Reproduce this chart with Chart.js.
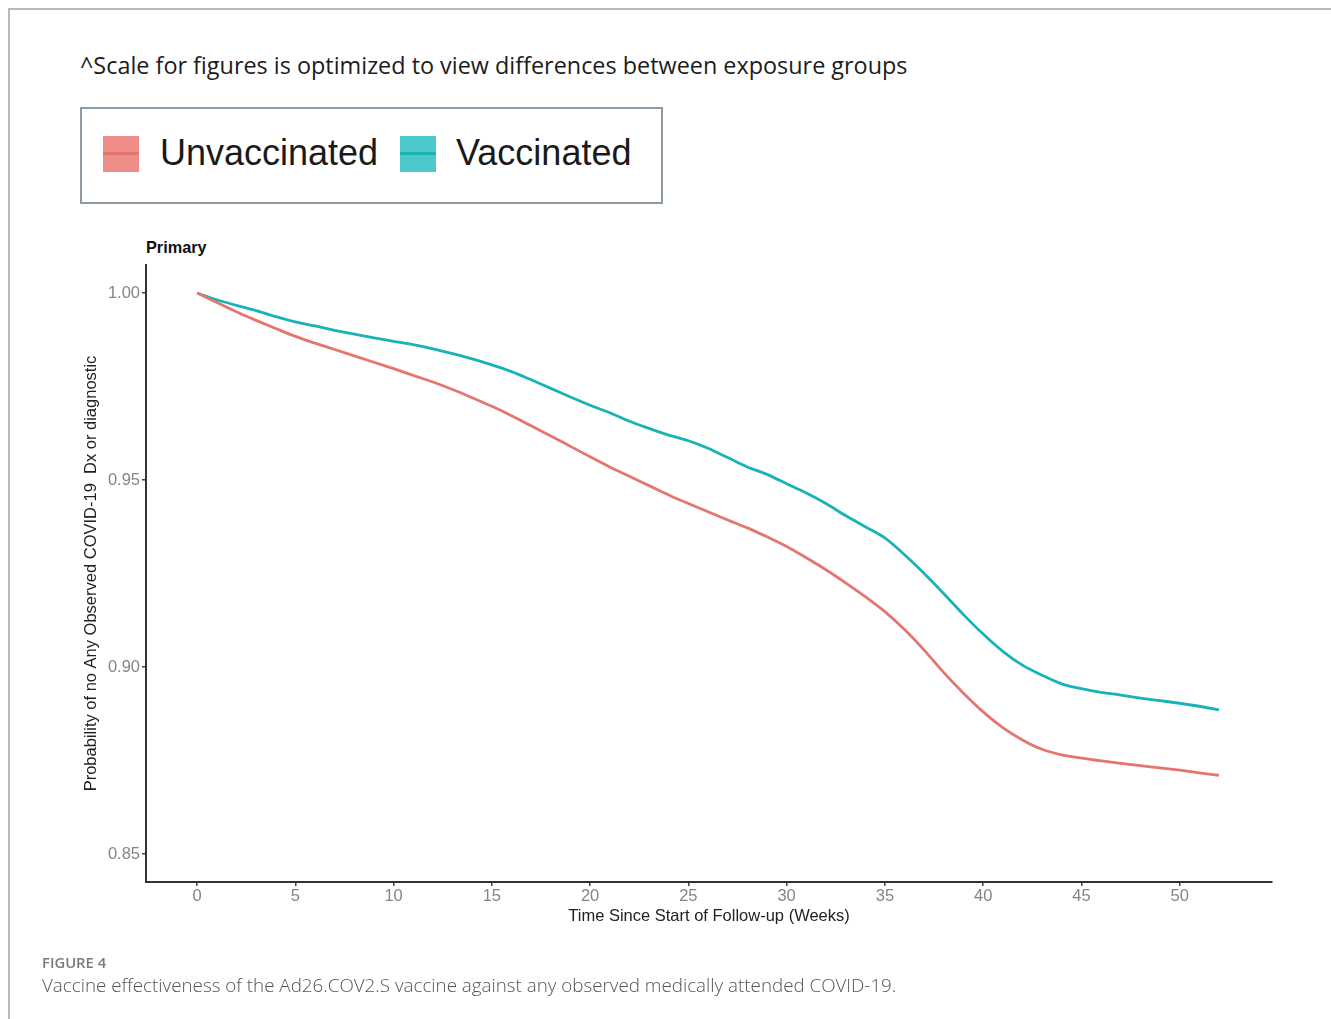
<!DOCTYPE html>
<html>
<head>
<meta charset="utf-8">
<script src="https://cdn.jsdelivr.net/npm/chart.js@4.4.1/dist/chart.umd.min.js"></script>
<style>
  html, body { margin: 0; padding: 0; background: #fff; }
  #page { position: relative; width: 1331px; height: 1019px; overflow: hidden; background: #fff; }
  #frameTop { position: absolute; left: 9px; top: 8px; width: 1322px; height: 2px; background: #b9b9b9; }
  #frameLeft { position: absolute; left: 8px; top: 8px; width: 2px; height: 1011px; background: #b9b9b9; }
  #note { position: absolute; left: 80px; top: 49px; font-family: "Open Sans", sans-serif; font-weight: 500; font-size: 23.4px; color: #1c1c1c; white-space: nowrap; }
  #legend { position: absolute; left: 80px; top: 107px; width: 579px; height: 93px; border: 2px solid #8c9ba6; box-sizing: content-box; }
  .key { position: absolute; top: 27px; width: 36px; height: 36px; }
  .key .mid { position: absolute; left: 0; top: 16px; width: 36px; height: 3px; }
  .lab { position: absolute; top: 24px; font-family: "Liberation Sans", Arial, sans-serif; font-size: 36px; color: #1a1a1a; white-space: nowrap; line-height: 40px; }
  #panel { position: absolute; left: 146px; top: 238px; font-family: "Liberation Sans", Arial, sans-serif; font-weight: bold; font-size: 16.3px; color: #111; }
  #cv { position: absolute; left: 0; top: 0; }
  #figno { position: absolute; left: 42px; top: 952px; font-family: "Open Sans", sans-serif; font-weight: 600; font-size: 14.8px; color: #7a7a7a; }
  #caption { position: absolute; left: 42px; top: 972px; font-family: "Open Sans", sans-serif; font-weight: 300; font-size: 18.8px; color: #555; white-space: nowrap; }
</style>
</head>
<body>
<div id="page">
  <div id="frameTop"></div>
  <div id="frameLeft"></div>
  <div id="note">^Scale for figures is optimized to view differences between exposure groups</div>
  <div id="legend"></div>
  <div id="panel">Primary</div>
  <canvas id="cv" width="1331" height="1019"></canvas>
  <div id="figno">FIGURE 4</div>
  <div id="caption">Vaccine effectiveness of the Ad26.COV2.S vaccine against any observed medically attended COVID-19.</div>
</div>
<script>
// Follow-up time in weeks
const weeks = [0,1,2,3,4,5,6,7,8,9,10,11,12,13,14,15,16,17,18,19,20,21,22,23,24,25,26,
  27,28,29,30,31,32,33,34,35,36,37,38,39,40,41,42,43,44,45,46,47,48,49,50,51,52];

// Survival probability, unvaccinated group
const unvaccinated = [1.000,0.9975,0.9950,0.9927,0.9905,0.9884,0.9866,0.9849,0.9832,0.9815,
  0.9798,0.9780,0.9762,0.9742,0.9720,0.9697,0.9672,0.9645,0.9618,0.9590,
  0.9562,0.9535,0.9510,0.9485,0.9460,0.9437,0.9415,0.9393,0.9372,0.9348,
  0.9322,0.9292,0.9260,0.9225,0.9188,0.9148,0.9100,0.9045,0.8985,0.8930,
  0.8880,0.8838,0.8805,0.8780,0.8765,0.8756,0.8749,0.8742,0.8736,0.8730,
  0.8724,0.8717,0.8710];

// Survival probability, vaccinated group
const vaccinated = [1.000,0.9982,0.9967,0.9953,0.9937,0.9923,0.9912,0.9900,0.9890,0.9880,
  0.9871,0.9862,0.9851,0.9838,0.9824,0.9808,0.9790,0.9768,0.9745,0.9722,
  0.9700,0.9680,0.9657,0.9638,0.9620,0.9605,0.9585,0.9560,0.9535,0.9515,
  0.9490,0.9465,0.9437,0.9405,0.9375,0.9345,0.9300,0.9250,0.9196,0.9140,
  0.9088,0.9042,0.9005,0.8978,0.8955,0.8942,0.8932,0.8925,0.8917,0.8910,
  0.8903,0.8895,0.8885];

const seriesNames = ['Unvaccinated', 'Vaccinated'];
const seriesColors = ['#E5766F', '#19B2B7'];
const keyFills = ['#EF8E88', '#4CC7CB'];

const xTicks = [0, 5, 10, 15, 20, 25, 30, 35, 40, 45, 50];
const yTicks = [0.85, 0.90, 0.95, 1.00];

// Legend box
const legend = document.getElementById('legend');
const keyLeft = [21, 318];
const labLeft = [78, 374];
seriesNames.forEach((name, i) => {
  const k = document.createElement('div');
  k.className = 'key';
  k.style.left = keyLeft[i] + 'px';
  k.style.background = keyFills[i];
  const m = document.createElement('div');
  m.className = 'mid';
  m.style.background = seriesColors[i];
  k.appendChild(m);
  legend.appendChild(k);
  const l = document.createElement('div');
  l.className = 'lab';
  l.style.left = labLeft[i] + 'px';
  l.textContent = name;
  legend.appendChild(l);
});

const toPoints = vals => weeks.map((w, i) => ({ x: w, y: vals[i] }));

const axisFont = { family: 'Liberation Sans', size: 16.5 };

new Chart(document.getElementById('cv'), {
  type: 'line',
  data: {
    datasets: [
      { label: seriesNames[0], data: toPoints(unvaccinated), borderColor: seriesColors[0],
        borderWidth: 2.8, pointRadius: 0, cubicInterpolationMode: 'monotone', fill: false },
      { label: seriesNames[1], data: toPoints(vaccinated), borderColor: seriesColors[1],
        borderWidth: 2.8, pointRadius: 0, cubicInterpolationMode: 'monotone', fill: false }
    ]
  },
  options: {
    responsive: false,
    devicePixelRatio: 1,
    animation: false,
    layout: { padding: { top: 265, right: 59, left: 0, bottom: 0 } },
    plugins: { legend: { display: false }, tooltip: { enabled: false } },
    scales: {
      x: {
        type: 'linear',
        min: -2.6,
        max: 54.7,
        afterFit: s => { s.height = 137; },
        afterBuildTicks: s => { s.ticks = xTicks.map(v => ({ value: v })); },
        grid: { drawOnChartArea: false, drawTicks: true, tickLength: 4, color: '#444', lineWidth: 1.5 },
        border: { display: true, color: '#333', width: 2 },
        ticks: { color: '#858585', font: axisFont, padding: 1, maxRotation: 0 },
        title: { display: true, text: 'Time Since Start of Follow-up (Weeks)', color: '#222',
                 font: axisFont, padding: { top: 0, bottom: 93 } }
      },
      y: {
        type: 'linear',
        min: 0.8425,
        max: 1.0075,
        afterFit: s => { s.width = 146; },
        afterBuildTicks: s => { s.ticks = yTicks.map(v => ({ value: v })); },
        grid: { drawOnChartArea: false, drawTicks: true, tickLength: 4, color: '#444', lineWidth: 1.5 },
        border: { display: true, color: '#333', width: 2 },
        ticks: { color: '#858585', font: axisFont, padding: 2,
                 callback: v => v.toFixed(2) },
        title: { display: true, text: 'Probability of no Any Observed COVID-19  Dx or diagnostic', color: '#222',
                 font: axisFont, padding: { top: 82, bottom: 0 } }
      }
    }
  }
});
</script>
</body>
</html>
